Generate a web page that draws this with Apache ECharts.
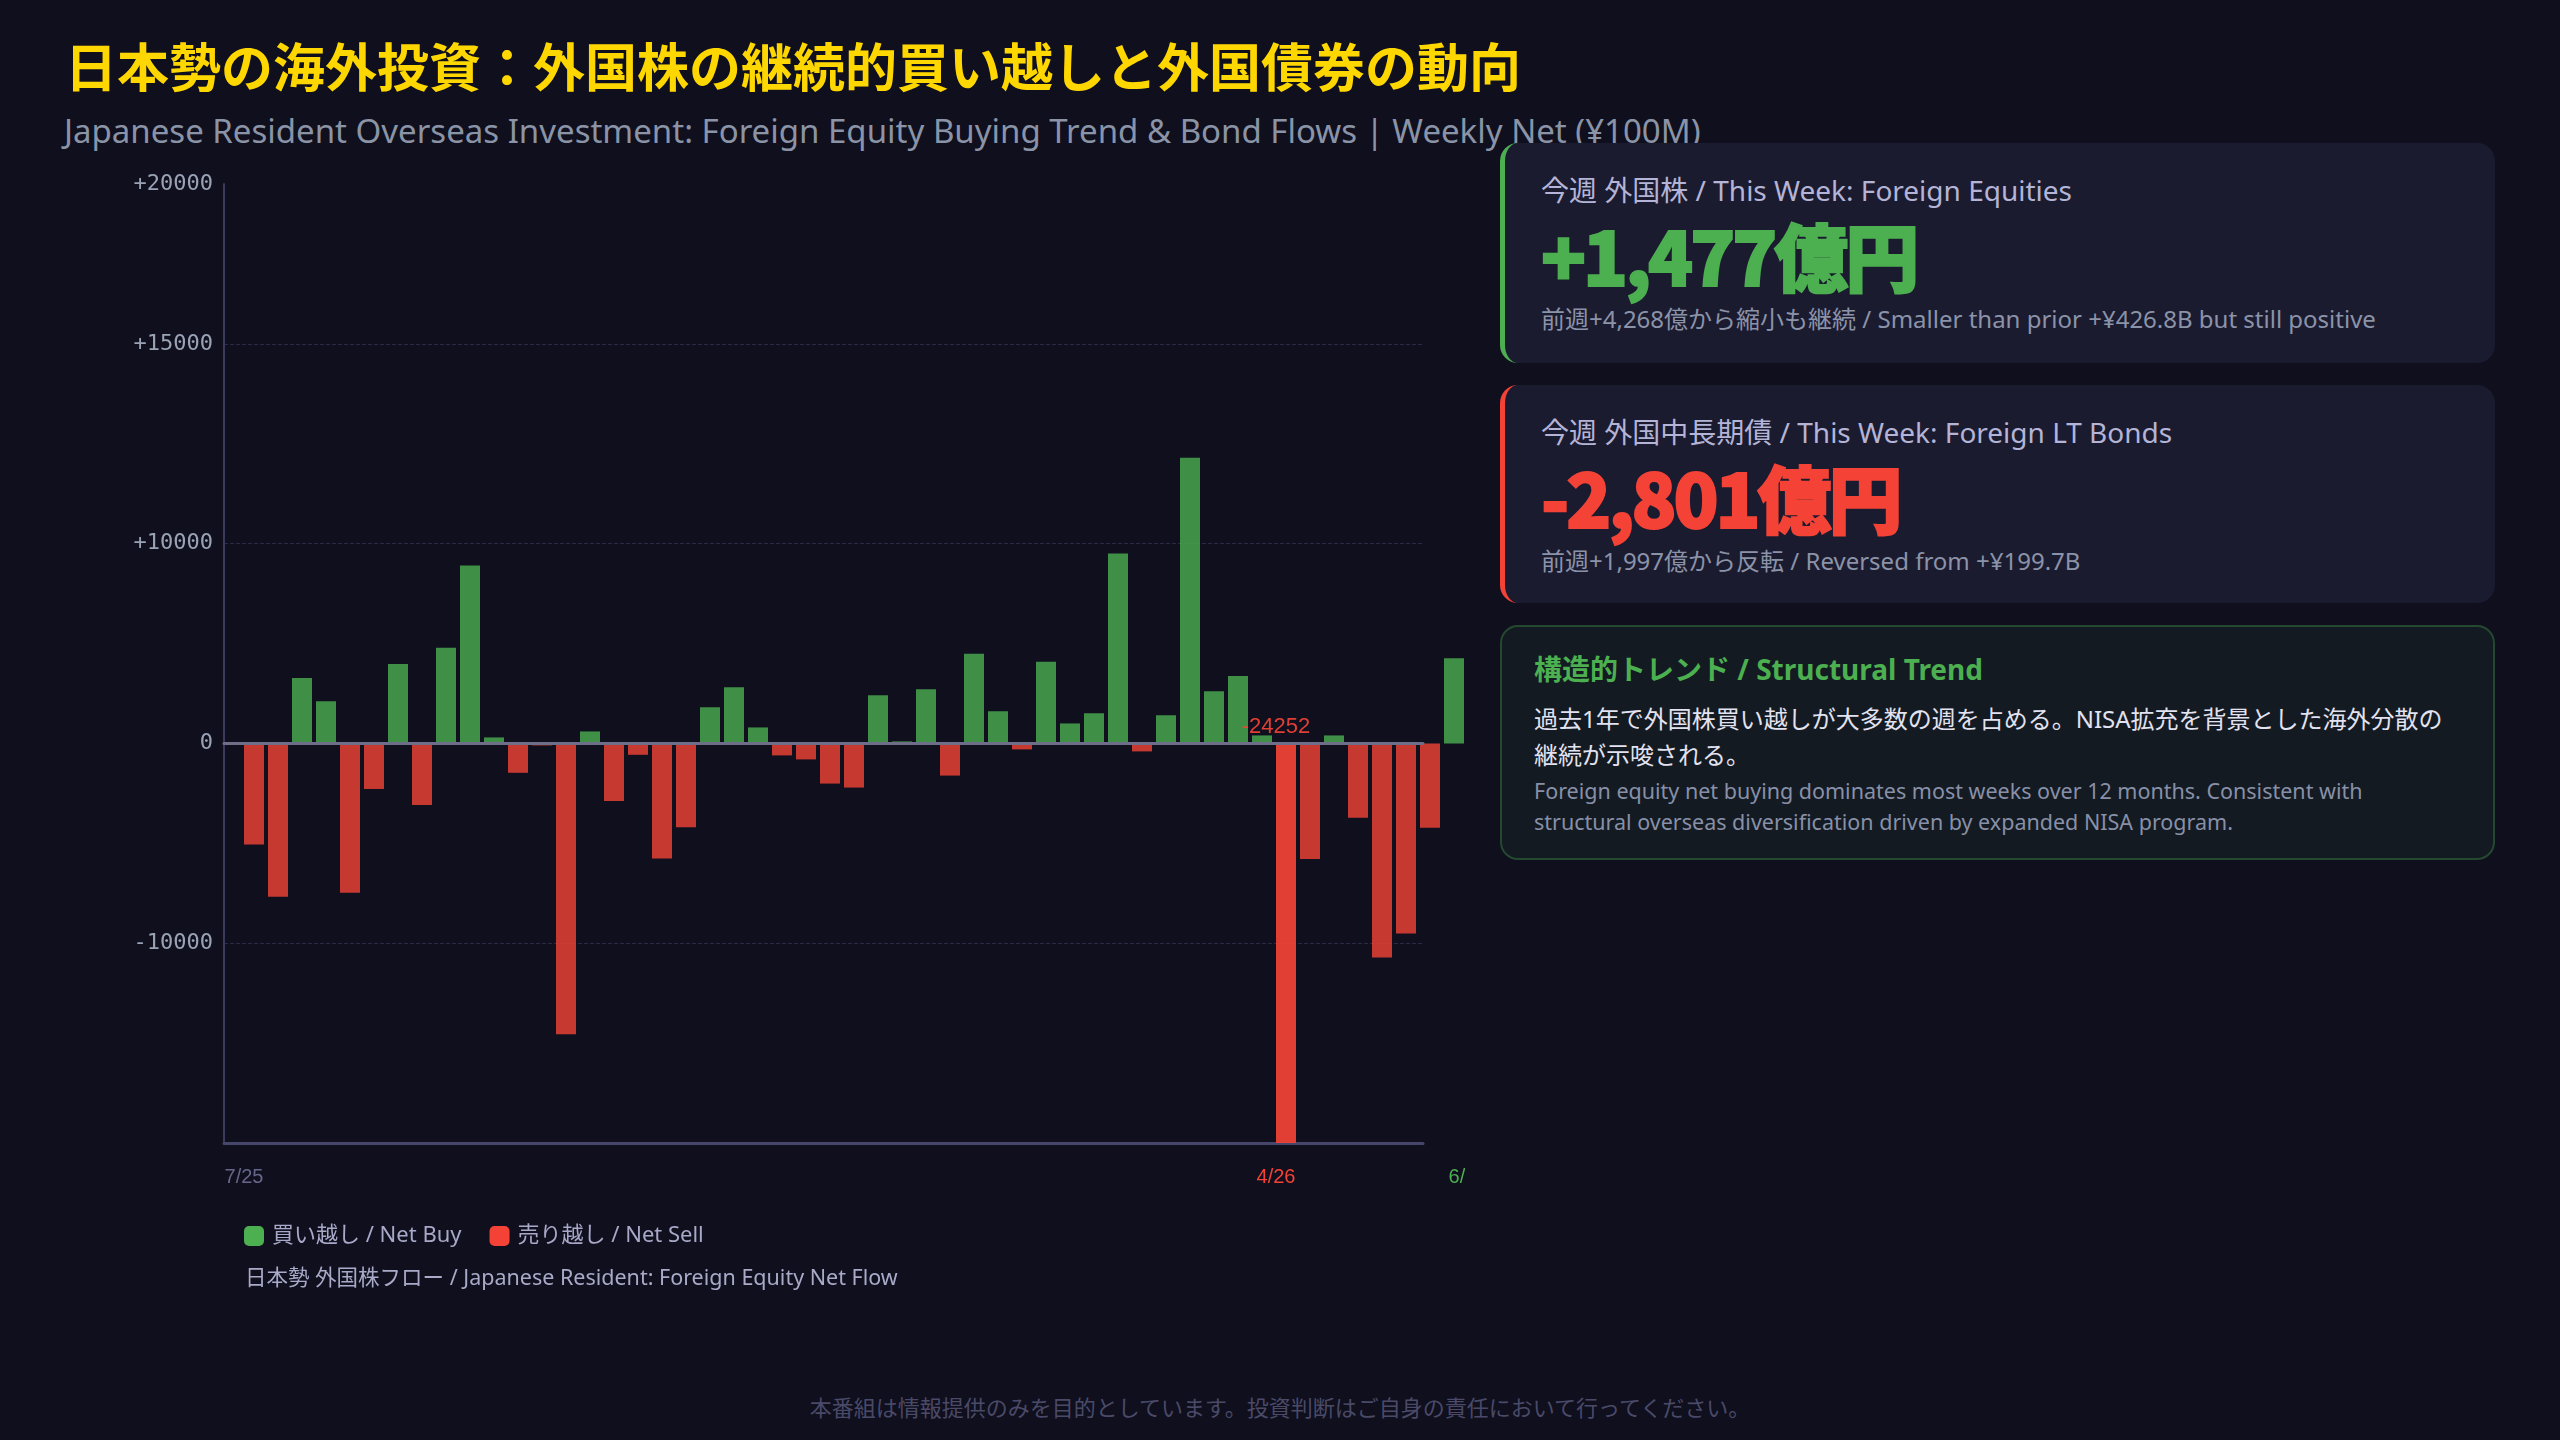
<!DOCTYPE html>
<html lang="ja">
<head>
<meta charset="utf-8">
<title>日本勢の海外投資</title>
<script src="https://cdn.jsdelivr.net/npm/echarts@6/dist/echarts.min.js"></script>
<style>
  html, body { margin: 0; padding: 0; }
  body {
    width: 2560px; height: 1440px; overflow: hidden; position: relative;
    background: #0f0f1e;
    font-family: "Noto Sans", "Noto Sans CJK JP", sans-serif;
  }
  #chart { position: absolute; left: 0; top: 0; width: 1465px; height: 1330px; }
  .title {
    position: absolute; left: 65px; top: 39px; margin: 0;
    font-family: "Noto Sans CJK JP", sans-serif;
    font-size: 52px; font-weight: 700; line-height: 1; color: #ffd700; white-space: nowrap;
  }
  .subtitle {
    position: absolute; left: 64px; top: 114px; margin: 0;
    font-size: 33px; line-height: 1; color: #8a94a6; white-space: nowrap;
  }
  .card {
    position: absolute; left: 1500px; width: 995px; box-sizing: border-box;
    background: #1b1b30; border-radius: 18px; z-index: 2;
  }
  .card.eq { top: 143px; height: 220px; border-left: 5px solid #4caf50; }
  .card.bd { top: 385px; height: 218px; border-left: 5px solid #f44336; }
  .card .lbl, .card .val, .card .sub { position: absolute; left: 36px; line-height: 1; white-space: nowrap; }
  .card .lbl { top: 33px; font-size: 28px; color: #b4b4d6; }
  .card .val {
    top: 74px; font-family: "Noto Sans CJK JP", sans-serif; font-size: 74px; font-weight: 900;
    letter-spacing: -3px; -webkit-text-stroke: 2px currentColor;
  }
  .card .sub { top: 164px; font-size: 24px; color: #8b93a8; }
  .eq .val { color: #4caf50; }
  .bd .val { color: #f44336; }
  .card.trend {
    top: 625px; height: 235px; background: #131a22; border: 2px solid #24492f; border-radius: 18px;
  }
  .trend .head { position: absolute; left: 32px; top: 28px; font-size: 28px; font-weight: 700; color: #4caf50; line-height: 1; white-space: nowrap; }
  .trend .body { position: absolute; left: 32px; top: 74px; width: 925px; font-size: 24px; line-height: 35.5px; color: #e2e2f0; }
  .trend .en { position: absolute; left: 32px; top: 148px; width: 900px; font-size: 21.5px; line-height: 31px; color: #8890a8; }
  .footer {
    position: absolute; left: 0; top: 1396px; width: 2560px; text-align: center;
    font-size: 22px; line-height: 1; color: #4a4a68;
  }
</style>
</head>
<body>
<h1 class="title">日本勢の海外投資：外国株の継続的買い越しと外国債券の動向</h1>
<div class="subtitle">Japanese Resident Overseas Investment: Foreign Equity Buying Trend &amp; Bond Flows | Weekly Net (¥100M)</div>
<div id="chart"></div>

<div class="card eq">
  <div class="lbl">今週 外国株 / This Week: Foreign Equities</div>
  <div class="val">+1,477億円</div>
  <div class="sub">前週+4,268億から縮小も継続 / Smaller than prior +¥426.8B but still positive</div>
</div>
<div class="card bd">
  <div class="lbl">今週 外国中長期債 / This Week: Foreign LT Bonds</div>
  <div class="val">-2,801億円</div>
  <div class="sub">前週+1,997億から反転 / Reversed from +¥199.7B</div>
</div>
<div class="card trend">
  <div class="head">構造的トレンド / Structural Trend</div>
  <div class="body">過去1年で外国株買い越しが大多数の週を占める。NISA拡充を背景とした海外分散の継続が示唆される。</div>
  <div class="en">Foreign equity net buying dominates most weeks over 12 months. Consistent with structural overseas diversification driven by expanded NISA program.</div>
</div>
<div class="footer">本番組は情報提供のみを目的としています。投資判断はご自身の責任において行ってください。</div>

<script>
// 週次データ（億円）
var weeks = [
  '2025-07-03', '2025-07-10', '2025-07-17', '2025-07-24', '2025-07-31',
  '2025-08-07', '2025-08-14', '2025-08-21', '2025-08-28',
  '2025-09-04', '2025-09-11', '2025-09-18', '2025-09-25',
  '2025-10-02', '2025-10-09', '2025-10-16', '2025-10-23', '2025-10-30',
  '2025-11-06', '2025-11-13', '2025-11-20', '2025-11-27',
  '2025-12-04', '2025-12-11', '2025-12-18', '2025-12-25',
  '2026-01-01', '2026-01-08', '2026-01-15', '2026-01-22', '2026-01-29',
  '2026-02-05', '2026-02-12', '2026-02-19', '2026-02-26',
  '2026-03-05', '2026-03-12', '2026-03-19', '2026-03-26',
  '2026-04-02', '2026-04-09', '2026-04-16', '2026-04-23', '2026-04-30',
  '2026-05-07', '2026-05-14', '2026-05-21', '2026-05-28',
  '2026-06-04', '2026-06-11', '2026-06-18', '2026-06-25'
];
var equityFlows = [
  -5060, -7670, 3280, 2110, -7470, -2280, 3980, -3080, 4790, 8910,
  300, -1470, -100, -14560, 600, -2880, -570, -5760, -4190, 1810,
  2810, 800, -600, -800, -2010, -2210, 2410, 100, 2710, -1610,
  4490, 1610, -300, 4090, 1000, 1510, 9510, -400, 1410, 14300,
  2610, 3380, 400, -24252, -5790, 400, -3720, -10710, -9510, -4220,
  4268, 1477
];
// y軸の目盛りと表示ラベル（元図のまま）
var yTicks = [-20000, -10000, 0, 10000, 20000, 28000];
var yTickLabels = ['', '-10000', '0', '+10000', '+15000', '+20000'];

var GREEN = '#4caf50';
var RED = '#f44336';
var minIndex = equityFlows.indexOf(Math.min.apply(null, equityFlows));
var lastIndex = equityFlows.length - 1;

var buyData = equityFlows.map(function (v) { return v > 0 ? v : null; });
var sellData = equityFlows.map(function (v, i) {
  if (v >= 0) return null;
  if (i !== minIndex) return v;
  return {
    value: v,
    itemStyle: { opacity: 0.92 },
    label: {
      show: true, position: 'top', distance: 5, offset: [-10, 0],
      formatter: function (p) { return String(p.value); },
      color: RED, fontSize: 22, fontFamily: 'Liberation Sans'
    }
  };
});

var xLabelFont = { fontSize: 20, fontFamily: 'Liberation Sans' };
var grid = { top: 184, height: 959 };
var myChart = echarts.init(document.getElementById('chart'));
var option = {
  animation: false,
  textStyle: { fontFamily: '"Noto Sans", "Noto Sans CJK JP", sans-serif' },
  title: {
    text: '日本勢 外国株フロー / Japanese Resident: Foreign Equity Net Flow',
    left: 245, top: 1268, padding: 0,
    textStyle: { fontSize: 21.5, fontWeight: 'normal', color: '#a8aac8' }
  },
  legend: {
    left: 244, top: 1225, padding: 0,
    icon: 'roundRect', itemWidth: 20, itemHeight: 20, itemGap: 28,
    selectedMode: false,
    itemStyle: { opacity: 1 },
    textStyle: { fontSize: 22, color: '#a8a8c8', padding: [0, 0, 0, 3] },
    data: ['買い越し / Net Buy', '売り越し / Net Sell']
  },
  grid: [
    { left: 224, top: grid.top, width: 1199, height: grid.height, outerBoundsMode: 'none' },
    { left: 242, top: grid.top, width: 1248, height: grid.height, outerBoundsMode: 'none' }
  ],
  xAxis: [
    {
      gridIndex: 0, type: 'value', min: 0, max: 1, position: 'bottom',
      axisLine: { show: true, onZero: false, lineStyle: { color: '#46466a', width: 3 } },
      axisTick: { show: false }, axisLabel: { show: false }, splitLine: { show: false }
    },
    {
      gridIndex: 0, type: 'value', min: 0, max: 1, position: 'top', z: 5,
      axisLine: { show: true, onZero: true, lineStyle: { color: '#6e6e88', width: 3 } },
      axisTick: { show: false }, axisLabel: { show: false }, splitLine: { show: false }
    },
    {
      gridIndex: 1, type: 'category', data: weeks,
      axisLine: { show: false }, axisTick: { show: false }, splitLine: { show: false },
      axisLabel: {
        interval: function (i) { return i === 0 || i === minIndex || i === lastIndex; },
        formatter: function (v, i) {
          var p = v.split('-');
          var txt = Number(p[1]) + '/' + p[0].slice(2);
          var key = i === minIndex ? 'r' : (i === lastIndex ? 'g' : 'd');
          return '{' + key + '|' + txt + '}';
        },
        rich: {
          d: Object.assign({ color: '#66668a' }, xLabelFont),
          r: Object.assign({ color: RED }, xLabelFont),
          g: Object.assign({ color: GREEN }, xLabelFont)
        },
        fontSize: 20, fontFamily: 'Liberation Sans', margin: 24, padding: [0, 20, 0, 0]
      }
    }
  ],
  yAxis: [
    {
      gridIndex: 0, type: 'value', min: -20000, max: 28000, interval: 10000,
      axisLine: { show: true, lineStyle: { color: '#3a3a5e', width: 2 } },
      axisTick: { show: false },
      axisLabel: {
        showMaxLabel: true, showMinLabel: true,
        formatter: function (v) { return yTickLabels[yTicks.indexOf(v)]; },
        fontFamily: 'DejaVu Sans Mono', fontSize: 22, color: '#9aa3b5', margin: 11
      },
      splitLine: {
        show: true,
        lineStyle: {
          type: 'dashed', width: 1,
          color: ['rgba(0,0,0,0)', '#2a2a42', 'rgba(0,0,0,0)', '#2a2a42', '#2a2a42', 'rgba(0,0,0,0)']
        }
      }
    },
    { gridIndex: 1, type: 'value', min: -20000, max: 28000, interval: 10000, show: false }
  ],
  series: [
    {
      name: '買い越し / Net Buy', type: 'bar', xAxisIndex: 2, yAxisIndex: 1,
      barWidth: 20, barGap: '-100%', data: buyData,
      itemStyle: { color: GREEN, opacity: 0.8 }
    },
    {
      name: '売り越し / Net Sell', type: 'bar', xAxisIndex: 2, yAxisIndex: 1, z: 3,
      barWidth: 20, barGap: '-100%', data: sellData,
      itemStyle: { color: RED, opacity: 0.8 }
    }
  ]
};
myChart.setOption(option);
</script>
</body>
</html>
